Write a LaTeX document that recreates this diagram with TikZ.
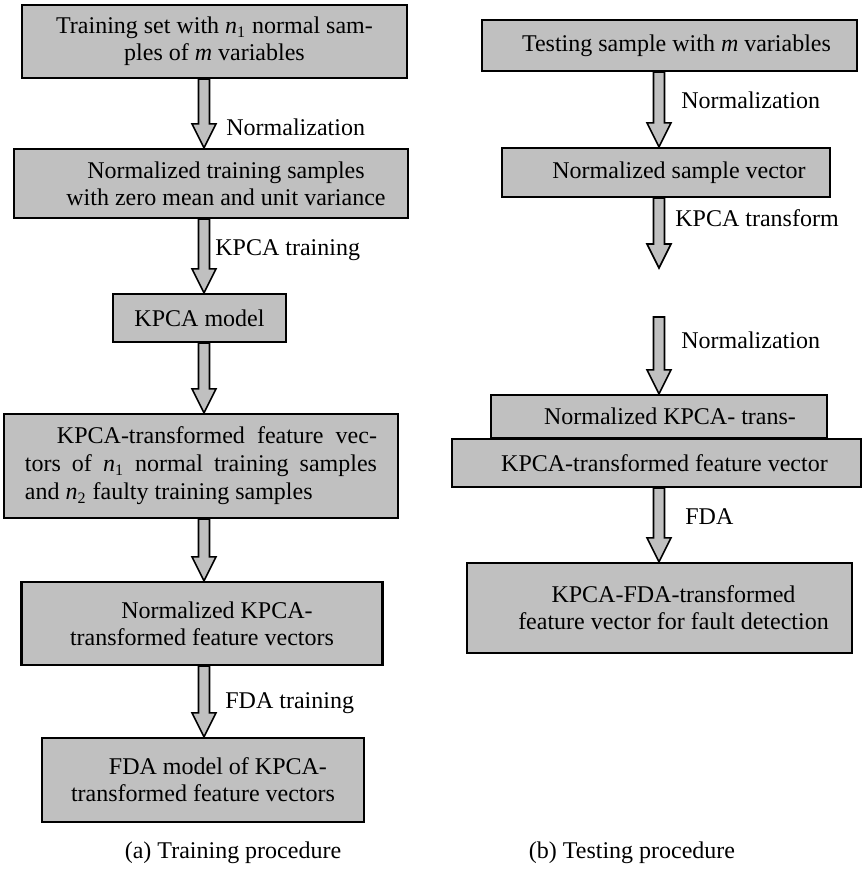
\documentclass[tikz,border=0pt]{standalone}
\usepackage{fontspec}
\setmainfont{Liberation Serif}
\usetikzlibrary{calc}

\definecolor{boxgray}{RGB}{192,192,192}

% hollow block arrow from #1 down to #2
\newcommand{\fatarrow}[2]{%
  \draw[fatarrow] let \p1=#1, \p2=#2 in
    (\x1-2.75pt,\y1) -- (\x1-2.75pt,\y2+12pt) -- (\x1-6pt,\y2+12pt) -- (\x1,\y2)
    -- (\x1+6pt,\y2+12pt) -- (\x1+2.75pt,\y2+12pt) -- (\x1+2.75pt,\y1) -- cycle;}
% leading space in front of a line
\newcommand{\lead}[1]{\hspace*{#1pt}}

\begin{document}
\begin{tikzpicture}[x=0.5pt, y=-0.5pt,
    box/.style={draw, fill=boxgray, line width=1.1pt, align=center, inner sep=2pt, font=\fontsize{12}{13.5}\selectfont},
    fatarrow/.style={draw, fill=boxgray, line width=0.8pt, line join=miter},
    lbl/.style={anchor=west, inner sep=0pt, font=\fontsize{12}{13.5}\selectfont}]
			\useasboundingbox (0,0) rectangle (862,869);
			\coordinate (lx) at (204,0);
			\coordinate (rx) at (659,0);

			% (a) training
			\node[box, minimum width=192.5pt, minimum height=36.5pt] at (214.5,41.5) (trainset) {Training set with \textit{n}\textsubscript{1} normal sam-\\ples of \textit{m} variables};
			\node[box, minimum width=197pt, minimum height=34.5pt] at (211,183.5) (trainnorm) {\lead{15}Normalized training samples\\\lead{15}with zero mean and unit variance};
			\node[box, minimum width=86.5pt, minimum height=24pt] at (199.5,318) (kpcamodel) {KPCA model};
			\node[box, minimum width=197pt, minimum height=52pt, text width=176pt, align=justify, font=\fontsize{12}{14}\selectfont] at (201,466) (trainfeat) {\lead{16}KPCA-transformed feature vec-\linebreak tors of \textit{n}\textsubscript{1} normal training samples\linebreak and \textit{n}\textsubscript{2} faulty training samples};
			\node[box, minimum width=180.5pt, minimum height=41.5pt] at (202,623.5) (trainfeatnorm) {\lead{15}Normalized KPCA-\\transformed feature vectors};
			\node[box, minimum width=161pt, minimum height=42pt] at (203,780) (fdamodel) {\lead{15}FDA model of KPCA-\\transformed feature vectors};

			% (b) testing
			\node[box, minimum width=187.5pt, minimum height=25.5pt] at (669.5,45.5) (testsample) {\lead{7}Testing sample with \textit{m} variables};
			\node[box, minimum width=164pt, minimum height=24.5pt] at (666,172.5) (testnorm) {\lead{13}Normalized sample vector};
			\coordinate (tfend) at (659,268);
			\coordinate (tnstart) at (659,317);
			\node[box, minimum width=168pt, minimum height=21.5pt] at (659,416.5) (testfeatnorm) {\lead{11}Normalized KPCA- trans-};
			\node[box, minimum width=204.5pt, minimum height=24pt] at (656.5,463) (testfeat) {\lead{8}KPCA-transformed feature vector};
			\node[box, minimum width=192.5pt, minimum height=45pt] at (659.5,608) (testfda) {\lead{14}KPCA-FDA-transformed\\\lead{14}feature vector for fault detection};

			\fatarrow{(trainset.south -| lx)}{(trainnorm.north -| lx)}
			\fatarrow{(trainnorm.south -| lx)}{(kpcamodel.north -| lx)}
			\fatarrow{(kpcamodel.south -| lx)}{(trainfeat.north -| lx)}
			\fatarrow{(trainfeat.south -| lx)}{(trainfeatnorm.north -| lx)}
			\fatarrow{(trainfeatnorm.south -| lx)}{(fdamodel.north -| lx)}

			\fatarrow{(testsample.south -| rx)}{(testnorm.north -| rx)}
			\fatarrow{(testnorm.south -| rx)}{(tfend)}
			\fatarrow{(tnstart)}{(testfeatnorm.north -| rx)}
			\fatarrow{(testfeat.south -| rx)}{(testfda.north -| rx)}

			\node[lbl] at (226,127) (normlbl) {Normalization};
			\node[lbl] at (215,250) (kpcalbl) {KPCA training};
			\node[lbl] at (225,703) (fdalbl) {FDA training};
			\node[lbl] at (681,100) (tnormlbl) {Normalization};
			\node[lbl] at (675,218) (tkpcalbl) {KPCA transform};
			\node[lbl] at (681,340) (tnormlbltwo) {Normalization};
			\node[lbl] at (685,517) (tfdalbl) {FDA};

			\node[lbl, anchor=center] at (233,853) (capa) {(a) Training procedure};
			\node[lbl, anchor=center] at (632,853) (capb) {(b) Testing procedure};
		\end{tikzpicture}
\end{document}
